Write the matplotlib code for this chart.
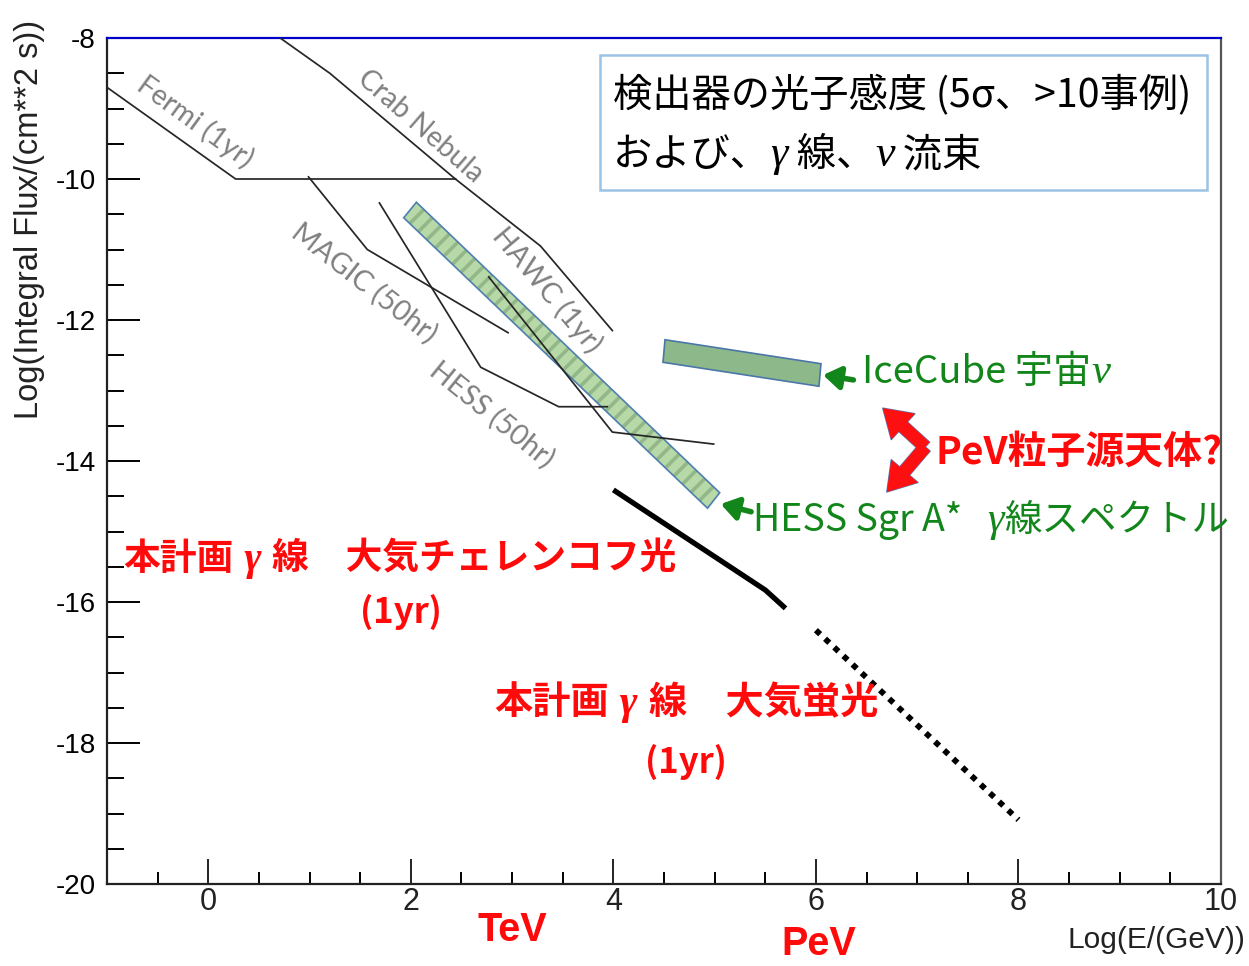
import matplotlib
matplotlib.use("Agg")
import matplotlib.pyplot as plt
from matplotlib import font_manager as fm
from matplotlib.patches import Polygon, Rectangle, FancyArrowPatch
from matplotlib.ticker import MultipleLocator
from matplotlib.offsetbox import TextArea, HPacker, AnnotationBbox

# ---------------- data ----------------
x_range = (-1, 10)
y_range = (-20, -8)
x_ticks = [0, 2, 4, 6, 8, 10]
y_ticks = [-20, -18, -16, -14, -12, -10, -8]

fermi_x = [-1.0, 0.27, 2.44]
fermi_y = [-8.70, -10.0, -10.0]
crab_x = [0.71, 1.20, 2.44]
crab_y = [-8.0, -8.5, -10.0]
hawc_x = [2.44, 3.28, 3.99]
hawc_y = [-10.0, -10.95, -12.15]
magic_x = [0.99, 1.57, 2.96]
magic_y = [-9.97, -11.0, -12.18]
hess_x = [1.69, 2.69, 3.46, 3.94]
hess_y = [-10.34, -12.67, -13.23, -13.23]
other_x = [2.77, 3.99, 4.99]
other_y = [-11.39, -13.59, -13.76]

cherenkov_x = [4.0, 5.5, 5.7]
cherenkov_y = [-14.41, -15.83, -16.09]
fluor_x = [6.0, 8.0]
fluor_y = [-16.40, -19.09]

sgr_band_x = [2.055, 5.05, 4.93, 1.93]
sgr_band_y = [-10.33, -14.45, -14.67, -10.55]
icecube_band_x = [4.51, 6.05, 6.03, 4.49]
icecube_band_y = [-12.28, -12.62, -12.94, -12.60]

# ---------------- fonts ----------------
names = {f.name for f in fm.fontManager.ttflist}
def pick(*cands):
    for c in cands:
        if c in names:
            return c
    return "DejaVu Sans"

NARROW = pick("Liberation Sans Narrow", "Liberation Sans")
SANS = pick("Liberation Sans", "DejaVu Sans")
SERIF = pick("Liberation Serif", "DejaVu Serif")
LABEL = pick("Lato", "Open Sans", "DejaVu Sans")
JP = [pick("Noto Sans CJK JP", "Noto Sans CJK SC"), "DejaVu Sans"]

plt.rcParams["hatch.linewidth"] = 2.6
plt.rcParams["axes.unicode_minus"] = False

RED = "#ff0a0a"
GREEN = "#12861a"
GRAY = "#808080"

fig = plt.figure(figsize=(12.49, 9.66), dpi=100)
ax = fig.add_axes([107 / 1249, 1 - 884 / 966, 1114 / 1249, 846 / 966])
ax.set_xlim(*x_range)
ax.set_ylim(*y_range)

# frame
for side in ["left", "bottom", "right"]:
    ax.spines[side].set_linewidth(1.6)
    ax.spines[side].set_color("#222222")
ax.spines["right"].set_color("#555555")
ax.spines["top"].set_color("#0000c8")
ax.spines["top"].set_linewidth(1.6)

ax.set_xticks(x_ticks)
ax.set_yticks(y_ticks)
ax.xaxis.set_minor_locator(MultipleLocator(0.5))
ax.yaxis.set_minor_locator(MultipleLocator(0.5))
ax.tick_params(axis="x", which="major", direction="in", length=18, width=1.4, pad=2,
               top=False, labelsize=22, colors="#222222")
ax.tick_params(axis="x", which="minor", direction="in", length=9, width=1.4, top=False)
ax.tick_params(axis="y", which="major", direction="in", length=24, width=1.4, pad=8,
               right=False, labelsize=20)
ax.tick_params(axis="y", which="minor", direction="in", length=12, width=1.4, right=False)
for lab in ax.get_xticklabels():
    lab.set_fontfamily(NARROW)
for lab in ax.get_yticklabels():
    lab.set_fontfamily(SANS)


def rich(x, y, parts, size, color, weight="normal", align=0.0, zorder=6):
    """Draw a run of text pieces (plain Japanese / italic Greek) side by side."""
    kids = []
    for s, greek in parts:
        if greek:
            props = dict(family=SERIF, style="italic", fontsize=size * 1.12,
                         weight=weight, color=color)
        else:
            props = dict(family=JP, fontsize=size, weight=weight, color=color)
        kids.append(TextArea(s, textprops=props))
    box = HPacker(children=kids, align="baseline", pad=0, sep=0)
    ab = AnnotationBbox(box, (x, y), xycoords="data", box_alignment=(align, 0.5),
                        frameon=False, pad=0, annotation_clip=False, zorder=zorder)
    ax.add_artist(ab)


# ---------------- source bands ----------------
sgr_pts = list(zip(sgr_band_x, sgr_band_y))
ax.add_patch(Polygon(sgr_pts, closed=True, facecolor="#b6d9a7", edgecolor="none", zorder=2))
ax.add_patch(Polygon(sgr_pts, closed=True, facecolor="none", edgecolor="#93b788",
                     linewidth=0, hatch="//", zorder=2.1))
ax.add_patch(Polygon(sgr_pts, closed=True, facecolor="none", edgecolor="#4f7fae",
                     linewidth=1.2, zorder=2.2))

ice_pts = list(zip(icecube_band_x, icecube_band_y))
ax.add_patch(Polygon(ice_pts, closed=True, facecolor="#8db98a", edgecolor="#4a76a8",
                     linewidth=1.2, zorder=2))

# ---------------- instrument sensitivities ----------------
for xs, ys in [(fermi_x, fermi_y), (crab_x, crab_y), (hawc_x, hawc_y),
               (magic_x, magic_y), (hess_x, hess_y), (other_x, other_y)]:
    ax.plot(xs, ys, color="#262626", linewidth=1.25, zorder=3)

ax.plot(cherenkov_x, cherenkov_y, color="black", linewidth=3.8,
        solid_capstyle="butt", zorder=3)
ax.plot(fluor_x, fluor_y, color="black", linewidth=4.2,
        linestyle=(0, (1, 1.15)), dash_capstyle="butt", zorder=3)

# instrument labels
def glabel(x, y, s, rot):
    ax.text(x, y, s, rotation=rot, rotation_mode="anchor", ha="center", va="center",
            fontsize=20.5, color=GRAY, family=LABEL, zorder=4)

glabel(-0.13, -9.19, "Fermi (1yr)", -36)
glabel(2.09, -9.25, "Crab Nebula", -41)
glabel(3.34, -11.57, "HAWC (1yr)", -50)
glabel(1.54, -11.48, "MAGIC (50hr)", -38)
glabel(2.80, -13.35, "HESS (50hr)", -39)

# ---------------- title box ----------------
ax.add_patch(Rectangle((0.4426, 0.8203), 0.5448, 0.1596, transform=ax.transAxes,
                       facecolor="white", edgecolor="#9cc2e5", linewidth=1.8, zorder=5))
ax.text(4.0, -8.81, "検出器の光子感度 (5σ、>10事例)", ha="left", va="center",
        fontsize=28.3, family=JP, color="black", zorder=6)
rich(4.0, -9.66, [("および、", False), ("γ", True), (" 線、", False), ("ν", True),
                  (" 流束", False)], 28.3, "black")

# ---------------- annotations ----------------
rich(1.89, -15.40, [("本計画", False), (" γ ", True), ("線　大気チェレンコフ光", False)],
     26.5, RED, weight="bold", align=0.5)
ax.text(1.90, -16.14, "(1yr)", ha="center", va="center",
        fontsize=25, family=JP, weight="bold", color=RED, zorder=6)
rich(4.72, -17.43, [("本計画", False), (" γ ", True), ("線　大気蛍光", False)],
     27.5, RED, weight="bold", align=0.5)
ax.text(4.72, -18.27, "(1yr)", ha="center", va="center",
        fontsize=25, family=JP, weight="bold", color=RED, zorder=6)
ax.text(7.18, -13.87, "PeV粒子源天体?", ha="left", va="center",
        fontsize=28, family=JP, weight="bold", color=RED, zorder=6, clip_on=False)

rich(6.46, -12.74, [("IceCube 宇宙", False), ("ν", True)], 27.5, GREEN)
rich(5.38, -14.84, [("HESS Sgr A*   ", False), ("γ", True), ("線スペクトル", False)], 27, GREEN)

# green pointers
for tip, tail in [((6.07, -12.78), (6.37, -12.85)), ((5.06, -14.61), (5.36, -14.72))]:
    ax.annotate("", xy=tip, xytext=tail,
                arrowprops=dict(arrowstyle="-|>,head_length=0.6,head_width=0.4",
                                color=GREEN, lw=4, mutation_scale=17,
                                shrinkA=0, shrinkB=0), zorder=6)

# red double-headed chevron
vertex = (7.08, -13.80)
for tip in [(6.66, -13.25), (6.70, -14.44)]:
    for edge, lw, z in [("#5b7fb5", 1.0, 6), ("none", 0, 6.5)]:
        ax.add_patch(FancyArrowPatch(vertex, tip,
                                     arrowstyle="simple,head_length=0.9,head_width=1.15,tail_width=0.42",
                                     mutation_scale=22, facecolor="#ff1010", edgecolor=edge,
                                     linewidth=lw, shrinkA=0, shrinkB=0, zorder=z))

# energy scale markers below the axis
ax.text(3.0, -20.65, "TeV", ha="center", va="center", fontsize=28.5, family=NARROW,
        weight="bold", color=RED, clip_on=False)
ax.text(6.03, -20.845, "PeV", ha="center", va="center", fontsize=28.5, family=NARROW,
        weight="bold", color=RED, clip_on=False)

# axis titles
fig.text(1245 / 1249, 1 - 940 / 966, "Log(E/(GeV))", ha="right", va="center",
         fontsize=21.5, family=NARROW, color="#222222")
fig.text(30 / 1249, 1 - 219 / 966, "Log(Integral Flux/(cm**2 s))", ha="center", va="center",
         rotation=90, fontsize=23.5, family=SANS, color="#222222")

fig.savefig("out.png", dpi=100, facecolor="white")
